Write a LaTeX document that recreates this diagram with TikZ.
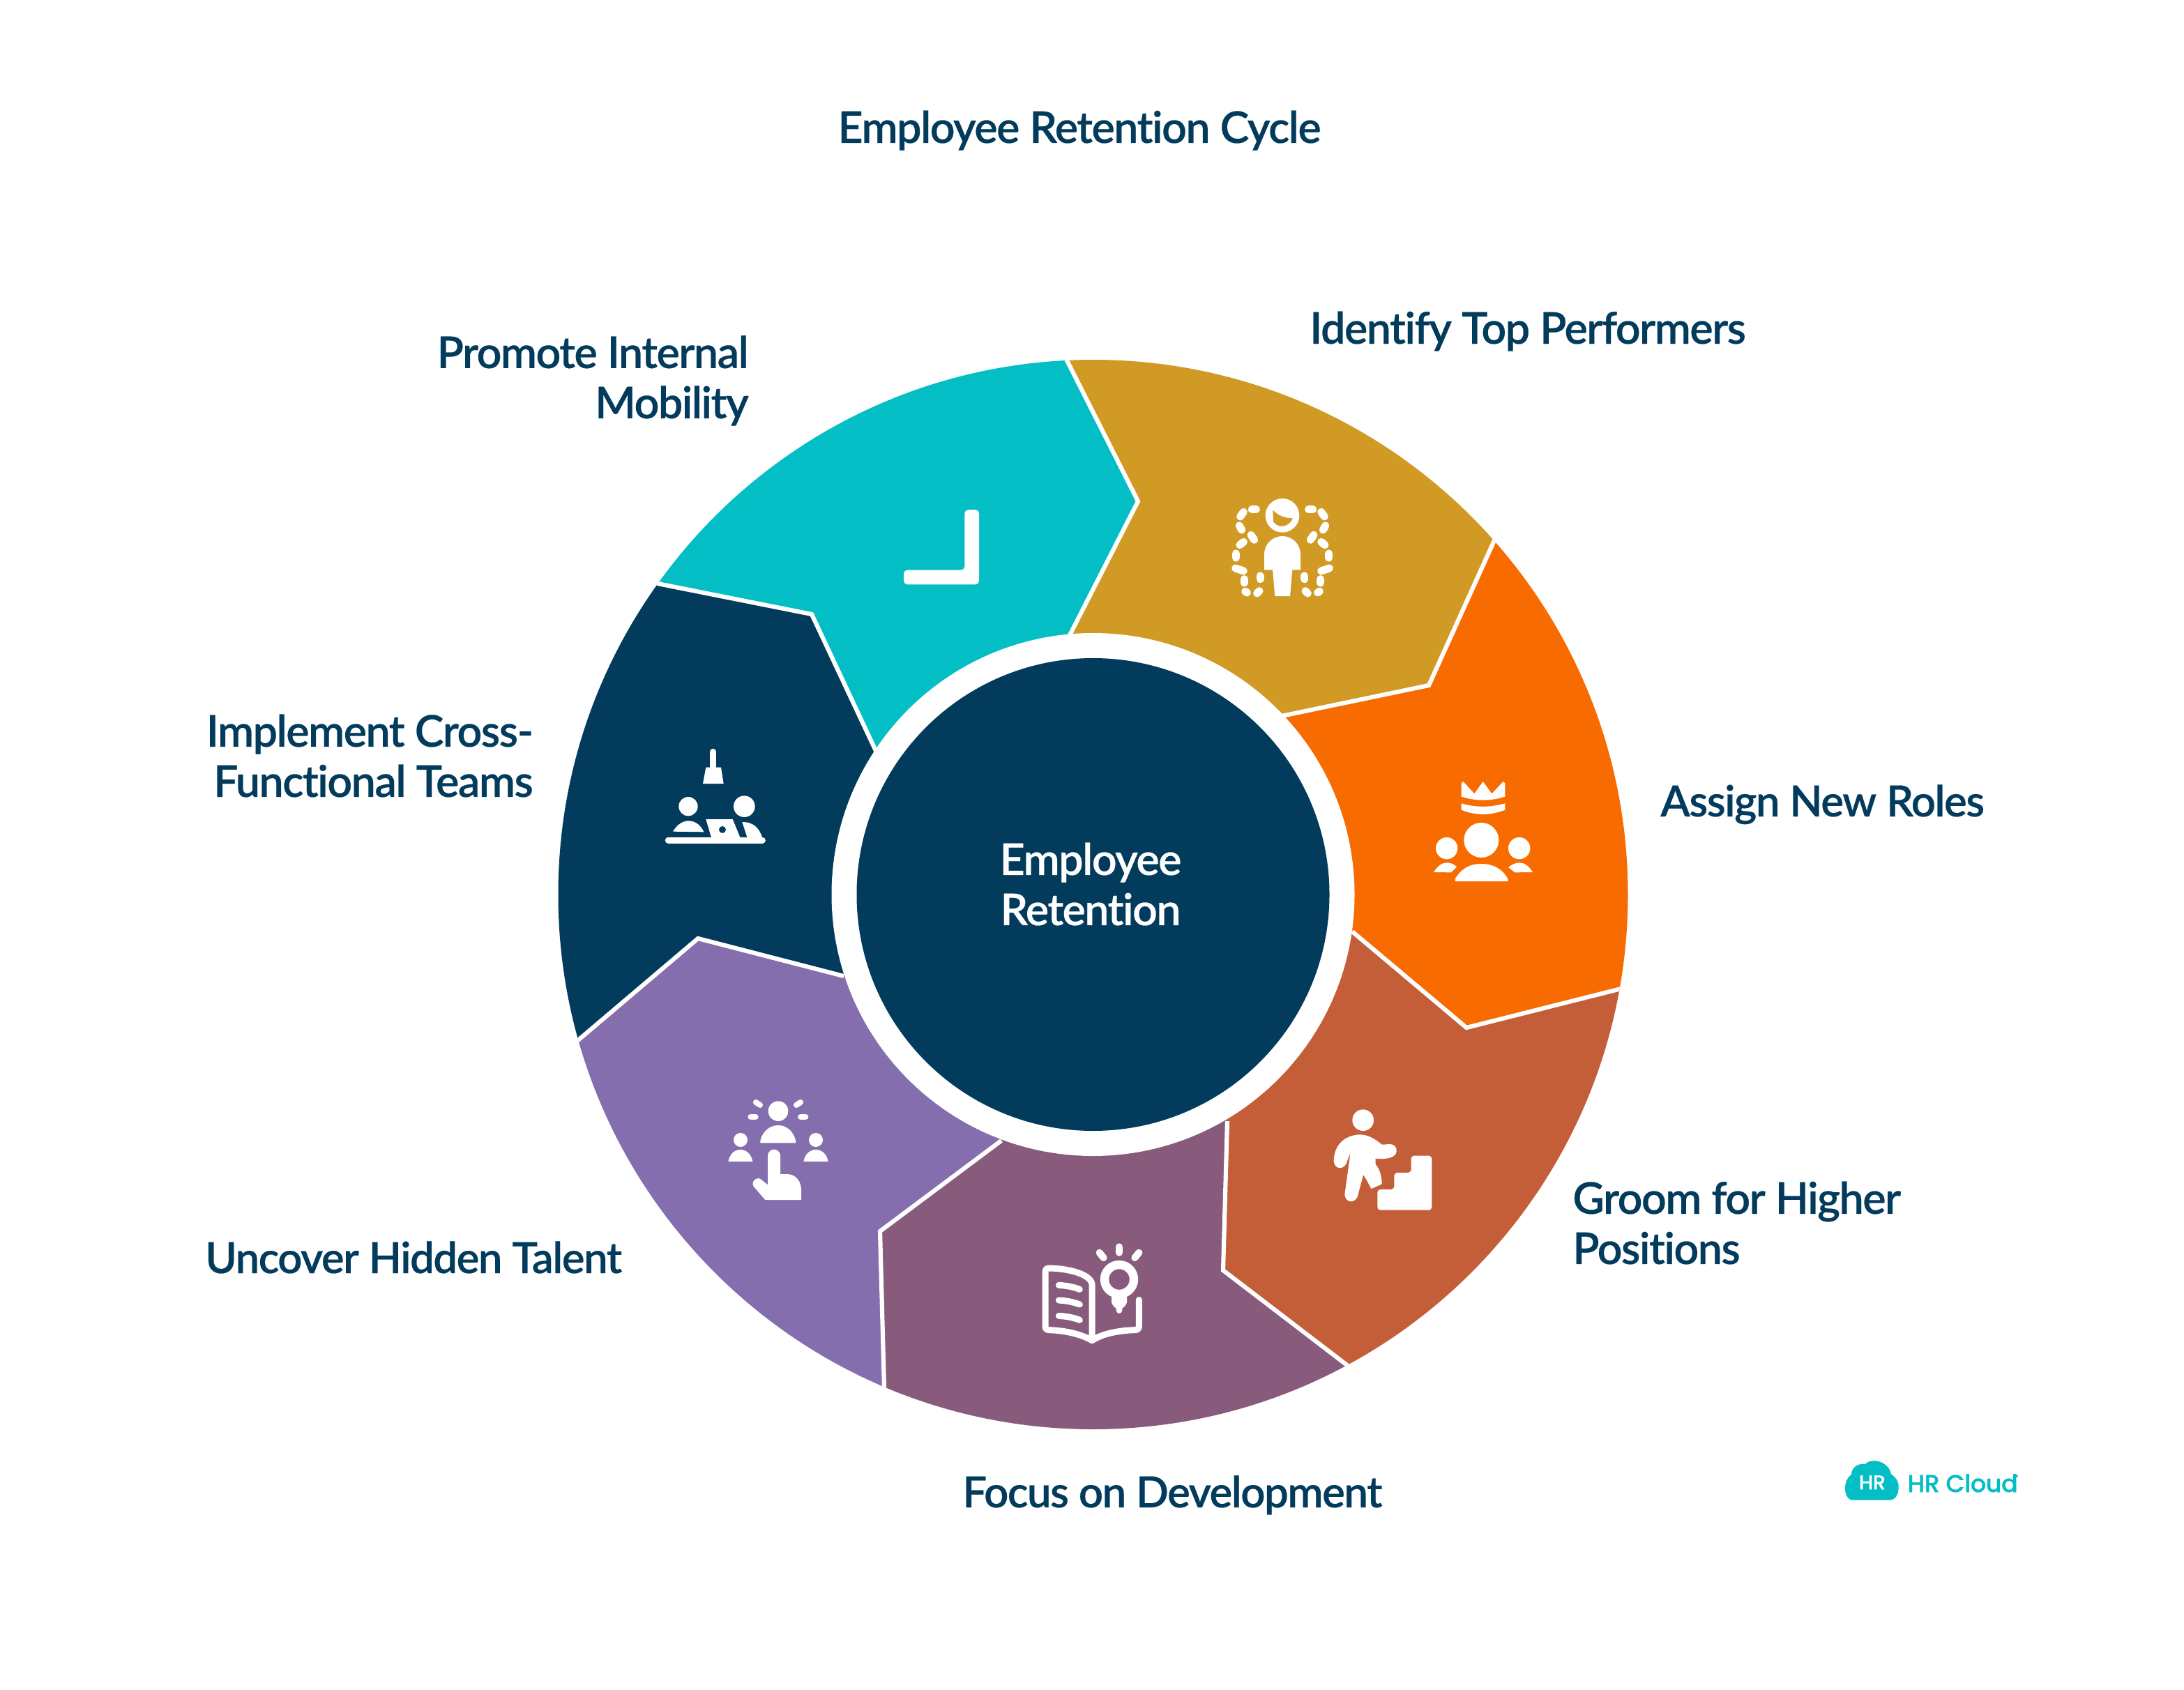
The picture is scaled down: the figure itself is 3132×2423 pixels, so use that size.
\documentclass[tikz,border=0pt]{standalone}
\usepackage{fontspec}
\setmainfont{Lato}[UprightFont=* Semibold,BoldFont=* Bold,Ligatures=NoCommon,LetterSpace=-2.4,FakeBold=0.35]
\newfontfamily\logofont{Poppins Medium}[FakeBold=0.4,LetterSpace=-1.5]
\usetikzlibrary{calc}
\definecolor{gold}{HTML}{D09A25}
\definecolor{orng}{HTML}{F76B00}
\definecolor{rust}{HTML}{C45E38}
\definecolor{plum}{HTML}{885B7D}
\definecolor{purp}{HTML}{856EAD}
\definecolor{navy}{HTML}{023B5C}
\definecolor{cyn}{HTML}{03BEC5}
\tikzset{
  x=0.02cm,y=-0.02cm,
  zoomat/.style 2 args={shift={(#1,#2)},x=0.0066667cm,y=-0.0066667cm},
  ink/.style={fill=white,draw=none},
  wline/.style={draw=white,line cap=round,line join=round,line width=#1*0.19pt},
  lbl/.style={text=navy,font=\fontsize{35.7}{41}\selectfont,inner sep=0pt},
  lbls/.style={text=navy,font=\fontsize{35.1}{41}\selectfont,inner sep=0pt},
  sector/.style={fill=#1,draw=none},
  seam/.style={draw=white,line width=3.5pt,line join=miter}
}
\begin{document}
\begin{tikzpicture}
\useasboundingbox (0,0) rectangle (3132,2423);
\coordinate (c) at (1567.5,1283);
\coordinate (Ao) at (1530,517);  \coordinate (Ak) at (1632,719);  \coordinate (Ai) at (1534,911);
\coordinate (Bo) at (2143,775);  \coordinate (Bk) at (2049,983);  \coordinate (Bi) at (1838,1027);
\coordinate (Co) at (2325,1418); \coordinate (Ck) at (2103,1474); \coordinate (Ci) at (1939,1336);
\coordinate (Do) at (1933,1959); \coordinate (Dk) at (1754,1822); \coordinate (Di) at (1760,1608);
\coordinate (Eo) at (1268,1991); \coordinate (Ek) at (1262,1766); \coordinate (Ei) at (1436,1636);
\coordinate (Fo) at (829,1492);  \coordinate (Fk) at (1001,1346); \coordinate (Fi) at (1210,1400);
\coordinate (Go) at (943,837);   \coordinate (Gk) at (1164,881);  \coordinate (Gi) at (1256,1077);
% ring
\begin{scope}
\clip (c) circle (767);
\foreach \p/\q/\col in {A/B/gold,B/C/orng,C/D/rust,D/E/plum,E/F/purp,F/G/navy,G/A/cyn}{
  \fill[sector=\col] (c) -- (\p i) -- (\p k) -- ($(\p k)!1.15!(\p o)$) -- ($(c)!1.35!(\p o)$) -- ($(c)!1.35!(\q o)$) -- ($(\q k)!1.15!(\q o)$) -- (\q k) -- (\q i) -- cycle;
}
\foreach \p in {A,B,C,D,E,F,G}{
  \draw[seam] (\p i) -- (\p k) -- ($(\p k)!1.15!(\p o)$);
}
\end{scope}
\fill[white] (c) circle (375);
\fill[navy] (c) circle (339);
% texts
\node[lbl,anchor=base] (title) at (1548,205) {Employee Retention Cycle};
\node[lbl,anchor=base west] (t1) at (1878,493) {Identify Top Performers};
\node[lbls,anchor=base west] (t2) at (2381,1171) {Assign New Roles};
\node[lbl,anchor=west,align=left] (t3) at (2255,1754) {Groom for Higher\\Positions};
\node[lbls,anchor=base west] (t4) at (1380,2162) {Focus on Development};
\node[lbls,anchor=base west] (t5) at (294,1826) {Uncover Hidden Talent};
\node[lbl,anchor=east,align=right] (t6) at (765,1084) {Implement Cross-\\Functional Teams};
\node[lbl,anchor=east,align=right] (t7) at (1074,546) {Promote Internal\\Mobility};
\node[lbl,text=white,align=center] (hub) at (1564,1268) {Employee\\Retention};
% icon gold
\begin{scope}[zoomat={1720}{680}]
\fill[ink] (357,178) circle (73);
\fill[gold] (316,155) .. controls (340,180) and (370,190) .. (402,190) .. controls (385,230) and (340,235) .. (318,205) -- cycle;
\fill[ink] (279,412) -- (279,345) arc (180:360:78) -- (435,412) -- (400,412) -- (390,525) -- (325,525) -- (315,412) -- cycle;
\foreach \ax/\ay/\bx/\by in {226/152/244/152,176/183/190/163,172/222/182/240,174/305/190/292,157/342/157/360,155/405/190/417,193/452/193/468,197/505/205/510,248/513/258/503,262/438/262/452,222/262/236/283}{
  \draw[wline=33] (\ax,\ay) -- (\bx,\by);
  \draw[wline=33] ({714-\ax},\ay) -- ({714-\bx},\by);
}
\end{scope}
% icon orange
\begin{scope}[zoomat={2020}{1090}]
\fill[ink] (227,158) -- (227,100) -- (235,93) -- (283,145) -- (320,93) -- (358,145) -- (407,93) -- (415,100) -- (415,158) .. controls (350,178) and (290,178) .. (227,158) -- cycle;
\fill[ink] (227,187) .. controls (290,205) and (350,205) .. (415,187) -- (415,215) .. controls (350,240) and (290,240) .. (227,215) -- cycle;
\fill[ink] (313,345) circle (75);
\fill[ink] (164,380) circle (47);
\fill[ink] (476,380) circle (47);
\fill[ink] (200,512) .. controls (225,470) and (260,447) .. (313,447) .. controls (365,447) and (405,470) .. (427,512) -- (427,522) -- (201,522) -- cycle;
\fill[ink] (108,483) .. controls (125,455) and (145,442) .. (165,442) .. controls (180,442) and (195,448) .. (207,460) -- (183,484) -- cycle;
\fill[ink] (534,483) .. controls (517,455) and (497,442) .. (477,442) .. controls (462,442) and (447,448) .. (429,462) -- (457,484) -- cycle;
\end{scope}
% icon rust
\begin{scope}[zoomat={1880}{1570}]
\fill[ink] (224,110) circle (46);
\fill[ink] (98,285) .. controls (100,220) and (140,175) .. (210,172) .. controls (250,172) and (280,195) .. (305,215) .. controls (320,215) and (330,213) .. (340,213) .. controls (360,213) and (370,230) .. (368,245) .. controls (365,270) and (330,280) .. (278,275) -- (278,300) .. controls (295,320) and (305,350) .. (305,385) -- (260,405) .. controls (250,390) and (240,365) .. (225,345) -- (200,440) .. controls (190,465) and (150,470) .. (145,430) -- (170,250) -- (150,300) .. controls (135,325) and (100,320) .. (98,285) -- cycle;
\fill[ink,rounded corners=2.5pt] (286,497) -- (286,408) -- (358,408) -- (358,336) -- (431,336) -- (431,263) -- (520,263) -- (520,497) -- cycle;
\end{scope}
% icon plum
\begin{scope}[zoomat={1470}{1770}]
\draw[wline=27] (288,440) -- (288,215) .. controls (280,170) and (180,148) .. (105,147) .. controls (92,147) and (87,152) .. (87,165) -- (87,395) .. controls (87,408) and (92,413) .. (105,413) .. controls (170,415) and (240,430) .. (288,458) .. controls (330,430) and (400,415) .. (470,413) .. controls (485,413) and (490,408) .. (490,395) -- (490,283);
\foreach \ya in {220,285,352}{
  \draw[wline=27] (145,\ya) .. controls (180,\ya+2) and (210,\ya+8) .. (235,\ya+18);
}
\draw[wline=37] (405,195) circle (63);
\fill[ink] (372,265) -- (372,295) .. controls (375,305) and (385,315) .. (392,320) -- (392,330) .. controls (395,345) and (415,345) .. (418,330) -- (418,320) .. controls (425,315) and (435,305) .. (438,295) -- (438,265) -- cycle;
\draw[wline=30] (405,55) -- (405,80);
\draw[wline=30] (320,80) -- (338,102);
\draw[wline=30] (490,80) -- (472,102);
\end{scope}
% icon purple
\begin{scope}[zoomat={1020}{1560}]
\fill[ink] (288,101) circle (43);
\fill[ink] (211,238) -- (363,238) -- (363,228) .. controls (355,190) and (325,162) .. (288,162) .. controls (250,162) and (220,190) .. (211,228) -- cycle;
\fill[ink] (126,225) circle (30);
\fill[ink] (450,225) circle (30);
\fill[ink] (73,318) -- (178,318) .. controls (172,285) and (150,267) .. (126,267) .. controls (100,267) and (80,285) .. (73,318) -- cycle;
\fill[ink] (397,318) -- (503,318) .. controls (497,285) and (475,267) .. (450,267) .. controls (425,267) and (403,285) .. (397,318) -- cycle;
\draw[wline=24] (192,63) -- (210,75);
\draw[wline=26] (170,126) -- (190,126);
\draw[wline=24] (384,63) -- (366,75);
\draw[wline=26] (385,126) -- (405,126);
\fill[ink] (243,293) arc (180:360:27) -- (297,372) -- (325,372) .. controls (365,372) and (387,405) .. (387,440) -- (387,483) -- (232,483) -- (182,425) .. controls (170,405) and (190,385) .. (210,392) -- (243,418) -- cycle;
\end{scope}
% icon navy
\begin{scope}[zoomat={930}{1060}]
\draw[wline=27] (278,55) -- (278,125);
\fill[ink] (247,122) -- (312,122) -- (323,192) -- (234,192) -- cycle;
\fill[ink] (171,290) circle (41);
\fill[ink] (105,398) .. controls (125,365) and (150,352) .. (172,352) .. controls (200,352) and (225,370) .. (238,400) -- cycle;
\fill[ink] (412,290) circle (46);
\draw[wline=27] (85,435) -- (490,435);
\fill[ink] (247,345) -- (362,345) -- (397,430) -- (272,430) -- cycle;
\fill[navy] (318,390) circle (15);
\fill[ink] (403,357) .. controls (450,357) and (475,380) .. (490,425) -- (425,425) -- cycle;
\end{scope}
% icon cyan
\begin{scope}[zoomat={1270}{700}]
\fill[ink,rounded corners=3pt] (340,93) -- (402,93) -- (402,415) -- (78,415) -- (78,353) -- (340,353) -- cycle;
\end{scope}
% logo
\begin{scope}[zoomat={2620}{2070}]
\fill[cyn] (110,245) .. controls (85,245) and (75,205) .. (78,190) .. controls (80,160) and (95,140) .. (105,135) .. controls (105,100) and (140,85) .. (165,90) .. controls (180,70) and (240,65) .. (270,115) .. controls (272,125) and (275,130) .. (278,135) .. controls (300,150) and (310,170) .. (308,190) .. controls (308,225) and (290,245) .. (270,245) -- cycle;
\node[text=white,inner sep=0pt,font=\logofont\fontsize{16.5}{18}\selectfont] (logohr) at (195,169) {HR};
\node[text=cyn,inner sep=0pt,anchor=west,font=\logofont\fontsize{20}{22}\selectfont] (logotext) at (345,172) {HR Cloud};
\node[text=cyn,inner sep=0pt,font=\logofont\fontsize{5}{6}\selectfont] (logoreg) at (815,145) {®};
\end{scope}
\end{tikzpicture}
\end{document}
